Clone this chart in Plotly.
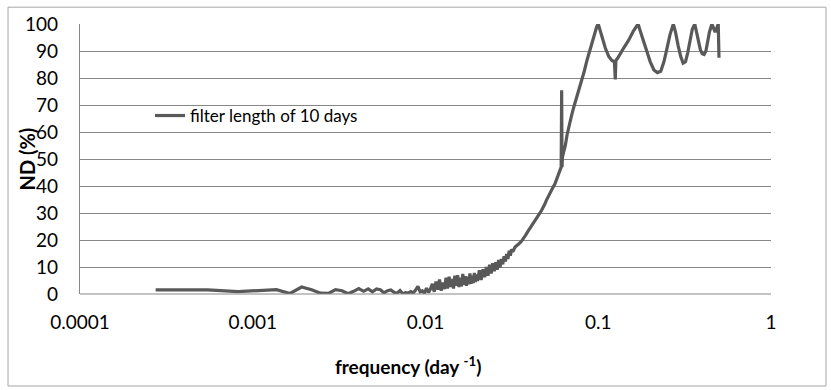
import plotly.graph_objects as go

# frequency (day^-1) and ND (%)
freq = [
    0.000274, 0.000548, 0.000822, 0.001096, 0.00137, 0.001644, 0.001918, 0.002192,
    0.002466, 0.00274, 0.003014, 0.003288, 0.003562, 0.003836, 0.00411, 0.004384,
    0.004658, 0.004932, 0.005205, 0.005479, 0.005753, 0.006027, 0.006301, 0.006575,
    0.006849, 0.007123, 0.007397, 0.007671, 0.007945, 0.00822, 0.008493, 0.008767,
    0.009041, 0.009315, 0.00959, 0.00986, 0.01014, 0.01041, 0.01068, 0.01096,
    0.01123, 0.0115, 0.01178, 0.01205, 0.01233, 0.0126, 0.01288, 0.01315,
    0.01342, 0.0137, 0.01397, 0.01425, 0.01452, 0.01479, 0.01507, 0.01534,
    0.01562, 0.01589, 0.01616, 0.01644, 0.01671, 0.01699, 0.01726, 0.01753,
    0.01781, 0.01808, 0.01836, 0.01863, 0.0189, 0.01918, 0.01945, 0.01973,
    0.0200, 0.0205, 0.0210, 0.0215, 0.0220, 0.0225, 0.0230, 0.0235,
    0.0240, 0.0245, 0.0250, 0.0255, 0.0260, 0.0265, 0.0270, 0.0275,
    0.0280, 0.0285, 0.0290, 0.0295, 0.0300, 0.0305, 0.0310, 0.0315,
    0.0320, 0.0330, 0.0340, 0.0350, 0.0360, 0.0370, 0.0380, 0.0390,
    0.0400, 0.0410, 0.0420, 0.0430, 0.0440, 0.0450, 0.0460, 0.0470,
    0.0480, 0.0490, 0.0500, 0.0510, 0.0520, 0.0530, 0.0540, 0.0550,
    0.0560, 0.0570, 0.0580, 0.0590, 0.0600, 0.0610, 0.0614, 0.0617,
    0.0620, 0.0630, 0.0645, 0.0660, 0.0680, 0.0700, 0.0720, 0.0740,
    0.0770, 0.0800, 0.0830, 0.0860, 0.0890, 0.0920, 0.0950, 0.0980,
    0.1000, 0.1050, 0.1100, 0.1150, 0.1200, 0.1240, 0.1255, 0.1265,
    0.1300, 0.1400, 0.1500, 0.1600, 0.1700, 0.1800, 0.1900, 0.2000,
    0.2100, 0.2200, 0.2300, 0.2400, 0.2500, 0.2600, 0.2720, 0.2800,
    0.2900, 0.3000, 0.3100, 0.3200, 0.3300, 0.3400, 0.3500, 0.3620,
    0.3700, 0.3800, 0.3900, 0.4000, 0.4100, 0.4200, 0.4300, 0.4400,
    0.4550, 0.4650, 0.4750, 0.4850, 0.4950, 0.5000,
]
nd = [
    1.5, 1.5, 0.9, 1.2, 1.6, 0.2, 2.6, 1.6,
    0.3, 0.2, 1.6, 1.2, 0.1, 1.0, 2.0, 1.0,
    1.9, 0.8, 1.9, 1.6, 0.4, 1.2, 1.5, 0.6,
    0.3, 1.3, 0.1, 0.5, 0.3, 0.9, 0.4, 1.5,
    2.8, 0.8, 1.2, 0.3, 2.2, 0.6, 1.8, 3.8,
    0.8, 4.6, 1.6, 5.4, 1.2, 4.2, 1.8, 6.0,
    2.0, 6.4, 2.6, 5.6, 2.0, 6.8, 3.0, 7.0,
    2.6, 6.0, 2.8, 7.4, 3.4, 6.6, 3.0, 6.4,
    3.6, 7.6, 3.8, 6.8, 4.0, 7.8, 4.4, 7.2,
    4.8, 8.8, 5.2, 9.2, 6.2, 10.0, 6.8, 10.8,
    7.6, 11.4, 8.4, 11.8, 9.0, 12.6, 9.8, 13.0,
    11.0, 14.0, 12.0, 14.8, 13.0, 16.0, 14.2, 16.6,
    15.6, 17.4, 18.0, 18.8, 19.6, 21.0, 21.8, 23.0,
    24.0, 25.0, 26.0, 27.0, 28.0, 29.0, 30.0, 31.0,
    32.0, 33.2, 34.6, 35.8, 37.0, 38.0, 39.0, 39.8,
    40.6, 41.8, 43.0, 44.5, 45.8, 47.0, 75.5, 47.0,
    50.5, 52.5, 55.0, 59.0, 63.0, 66.0, 69.0, 71.5,
    75.0, 79.0, 82.5, 86.5, 90.0, 93.5, 96.5, 99.0,
    100.0, 95.0, 91.0, 88.0, 86.5, 86.0, 79.5, 86.5,
    87.5, 91.0, 94.0, 97.5, 100.0, 95.0, 90.0, 86.0,
    83.0, 82.0, 82.5, 86.0, 91.0, 96.0, 100.0, 97.0,
    92.0, 88.0, 85.5, 86.0, 89.5, 94.0, 98.0, 100.0,
    97.0, 93.5, 90.5, 89.0, 88.7, 90.0, 93.5, 97.0,
    100.0, 98.0, 97.0, 98.5, 100.0, 87.5,
]

x_ticks = [0.0001, 0.001, 0.01, 0.1, 1]
x_tick_text = ["0.0001", "0.001", "0.01", "0.1", "1"]
y_ticks = [0, 10, 20, 30, 40, 50, 60, 70, 80, 90, 100]

FONT = "Lato, 'Open Sans', sans-serif"
W, H = 831, 390
L, R, T, B = 80, 60, 21, 96
pw, ph = W - L - R, H - T - B

def px(xp):
    return (xp - L) / pw

def py(yp):
    return (H - B - yp) / ph

fig = go.Figure()
fig.add_trace(go.Scatter(
    x=freq, y=nd, mode="lines", name="filter length of 10 days",
    line=dict(color="#595959", width=3.2),
))

fig.update_layout(
    width=W, height=H,
    margin=dict(l=L, r=R, t=T, b=B),
    paper_bgcolor="white", plot_bgcolor="white",
    font=dict(family=FONT, size=19, color="#000000"),
    showlegend=True,
    legend=dict(x=px(150), y=py(114), xanchor="left", yanchor="middle",
                bgcolor="rgba(0,0,0,0)", font=dict(size=17)),
    xaxis=dict(type="log", range=[-4, 0], tickvals=x_ticks, ticktext=x_tick_text,
               showgrid=False, zeroline=False, showline=False, ticks="",
               ticklabelstandoff=15, tickfont=dict(size=19)),
    yaxis=dict(range=[0, 100], tickvals=y_ticks, showgrid=True, gridcolor="#878787",
               gridwidth=1.2, zeroline=False, showline=True, linecolor="#878787",
               linewidth=1.2, ticks="outside", ticklen=17, tickcolor="rgba(0,0,0,0)",
               tickfont=dict(size=19)),
)

# bottom axis line (0 gridline coincides)
fig.add_shape(type="line", xref="paper", yref="paper", x0=0, x1=1, y0=0, y1=0,
              line=dict(color="#878787", width=1.2))
# outer chart border
fig.add_shape(type="rect", xref="paper", yref="paper",
              x0=px(8), x1=px(826), y0=py(387), y1=py(4),
              line=dict(color="#A6A6A6", width=1), fillcolor="rgba(0,0,0,0)", layer="below")

fig.add_annotation(text="<b>ND (%)</b>", xref="paper", yref="paper",
                   x=px(27), y=py(158), textangle=-90, showarrow=False,
                   font=dict(size=20), xanchor="center", yanchor="middle")
fig.add_annotation(text="<b>frequency (day <sup>-1</sup>)</b>", xref="paper", yref="paper",
                   x=px(408), y=py(366), showarrow=False,
                   font=dict(size=19), xanchor="center", yanchor="middle")

fig.write_html("out.html")
